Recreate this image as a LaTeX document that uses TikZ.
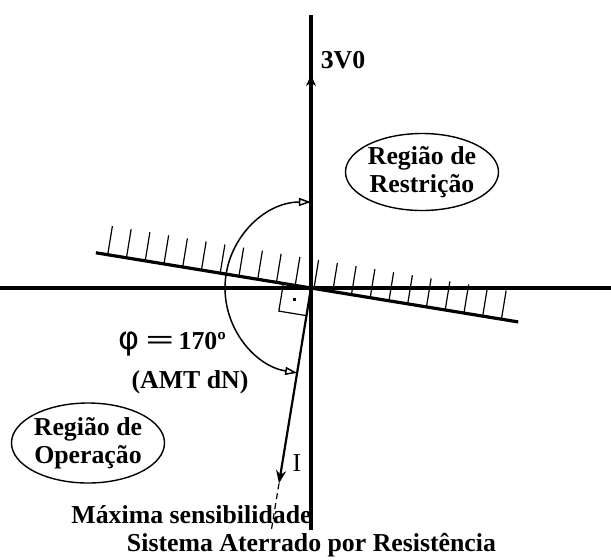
\documentclass[tikz,border=0pt]{standalone}
\usepackage{fontspec}
\setmainfont{Liberation Serif}
\newfontfamily\gregofont{DejaVu Sans}
\usetikzlibrary{arrows.meta,calc,shapes.geometric}

\begin{document}
\begin{tikzpicture}[x=.5pt,y=.5pt,font=\fontsize{12.9}{14}\selectfont\bfseries,
 eixo/.style={line width=1.6pt},
 hachura/.style={line width=.6pt},
 regiao/.style={draw,ellipse,line width=.7pt,inner sep=0pt,align=center}]
\useasboundingbox (-311,-271) rectangle (300,288);
\coordinate (O) at (0,0);
\coordinate (esq) at (-311,0);
\coordinate (dir) at (300,0);
\coordinate (topo) at (0,273);
\coordinate (seta) at (0,213);
\coordinate (base) at (0,-242);
% eixos
\draw[eixo] (esq) -- (dir);
\draw[eixo] (base) -- (topo);
\draw[eixo,-{Stealth[length=5.5pt,width=5pt]}] (O) -- (seta);
% reta de restricao com hachuras
\coordinate (rA) at (170.7:218);
\coordinate (rB) at (-9.3:210);
\draw[eixo] (rA) -- (rB);
\foreach \t in {-206,-187,...,-16}
 \draw[hachura] (-9.3:\t) -- ++(80.7:29);
\foreach \t in {3,22,...,193}
 \draw[hachura] (-9.3:\t) -- ++(80.7:29);
% angulo reto
\draw[hachura] (170.7:28) -- ++(260.7:28) -- (260.7:28);
\fill ($(170.7:14)+(260.7:14)$) ++(-1.5,-1.5) rectangle ++(3,3);
% corrente I
\coordinate (pI) at (260.7:198);
\coordinate (pD) at (260.7:245);
\draw[line width=1.1pt,-{Stealth[length=6.5pt,width=5pt]}] (O) -- (pI);
\draw[line width=.6pt,densely dashed] (pI) -- (pD);
\node[font=\fontsize{12.9}{14}\selectfont] (lI) at (-14,-175) {I};
% arco do angulo
\coordinate (arcA) at (90:86);
\draw[line width=.75pt,{Triangle[open,length=6pt,width=4pt]}-{Triangle[open,length=6pt,width=4pt]}] (arcA) arc[start angle=90,end angle=260.7,radius=86];
% textos
\node (v0) at (32,228) {3V0};
\node[regiao,minimum width=72.5pt,minimum height=38.5pt] (rest) at (111,116) {Região de\\Restrição};
\node[regiao,minimum width=75.5pt,minimum height=40pt] (oper) at (-223,-155) {Região de\\Operação};
\node (phi) at (-139,-56) {{\gregofont\mdseries\fontsize{16}{16}\selectfont φ} {\fontsize{14}{16}\selectfont\scalebox{1.8}[1]{=}}\,170º};
\node (amt) at (-121,-94) {(AMT dN)};
\node (max) at (-119.5,-227) {Máxima sensibilidade};
\node (sis) at (0.5,-257) {Sistema Aterrado por Resistência};
\end{tikzpicture}
\end{document}
